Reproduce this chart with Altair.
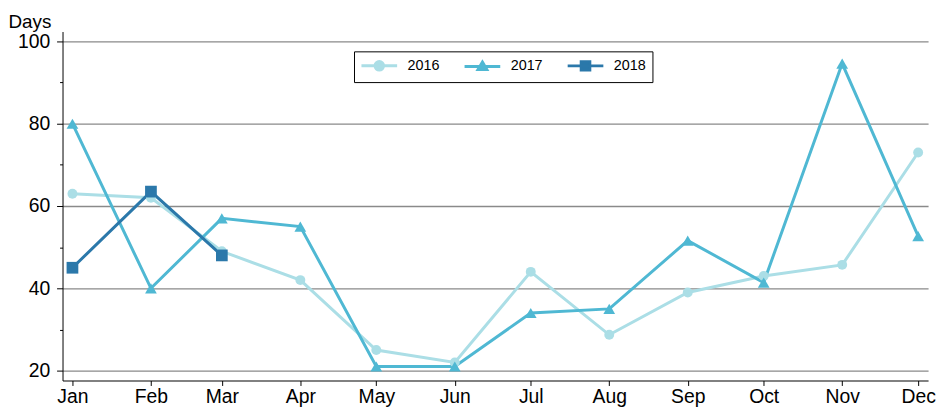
import altair as alt
import pandas as pd

# monthly counts of days, one list per year
months = ["2017-01-01", "2017-02-01", "2017-03-01", "2017-04-01", "2017-05-01", "2017-06-01",
          "2017-07-01", "2017-08-01", "2017-09-01", "2017-10-01", "2017-11-01", "2017-12-01"]
years = ["2016", "2017", "2018"]
days_2016 = [63, 62, 49, 42, 25, 22, 44, 28.7, 39, 43, 45.7, 73]
days_2017 = [80, 40, 57, 55, 21, 21, 34, 35, 51.6, 41.4, 94.6, 52.7]
days_2018 = [45, 63.5, 48]
colors = ["#abdee6", "#4fb8d3", "#2b78aa"]
markers = ["circle", "triangle-up", "square"]
marker_sizes = [100, 140, 140]

rows = []
for year, vals in zip(years, [days_2016, days_2017, days_2018]):
    for m, v in zip(months, vals):
        rows.append({"month": m, "year": year, "series": year, "days": v})
data = pd.DataFrame(rows)

# legend symbols: a short line with the marker sitting in its middle
legend_paths = [
    "M-1,0H4.14M2.18,0A0.61,0.61 0 1,1 0.96,0A0.61,0.61 0 1,1 2.18,0Z",
    "M-1,0H4.14M1.57,-0.62L2.2,0.45H0.94Z",
    "M-1,0H4.14M0.95,-0.6H2.19V0.6H0.95Z",
]

x = alt.X(
    "month:T",
    scale=alt.Scale(
        type="utc",
        nice=False,
        domain=[alt.DateTime(year=2016, month=12, date=28, hours=2, utc=True),
                alt.DateTime(year=2017, month=12, date=4, hours=22, utc=True)],
    ),
    axis=alt.Axis(
        title=None, format="%b", tickCount="month", grid=False,
        tickSize=5, labelPadding=2, labelFontSize=19.5,
    ),
)
y = alt.Y(
    "days:Q",
    scale=alt.Scale(domain=[17.6, 102.4], nice=False, zero=False),
    axis=alt.Axis(
        title="Days", titleAngle=0, titleAlign="left", titleBaseline="alphabetic",
        titleX=-55, titleY=-4, titleFontSize=19, titleFontWeight="normal",
        values=[20, 30, 40, 50, 60, 70, 80, 90, 100],
        labelExpr="datum.value % 20 == 0 ? datum.label : ''",
        tickSize={"condition": {"test": "datum.value % 20 == 0", "value": 6}, "value": 3},
        gridOpacity={"condition": {"test": "datum.value % 20 == 0", "value": 1}, "value": 0},
        labelFontSize=19.5, labelPadding=7,
    ),
)
# color domain left to the data so this hidden legend is not merged with the shown one
color = alt.Color("year:N", scale=alt.Scale(range=colors), legend=None)

lines = alt.Chart(data).mark_line(strokeWidth=3).encode(x=x, y=y, color=color)

point_layers = []
for year, shp, sz in zip(years, markers, marker_sizes):
    point_layers.append(
        alt.Chart(data)
        .transform_filter(alt.datum.year == year)
        .mark_point(filled=True, opacity=1, shape=shp, size=sz)
        .encode(x=x, y=y, color=color)
    )

legend = alt.Legend(
    title=None, orient="none", legendX=294, legendY=20, direction="horizontal",
    strokeColor="black", fillColor="white", padding=6,
    symbolSize=196, symbolStrokeWidth=3, symbolOpacity=1,
    labelFontSize=14.5, labelOffset=31, columnPadding=18,
)
# draws nothing itself (no rows pass the filter); it only carries the legend
legend_layer = (
    alt.Chart(data)
    .transform_filter(alt.datum.days < 0)
    .mark_point(opacity=1)
    .encode(
        x=x,
        y=y,
        fill=alt.Fill("series:N", scale=alt.Scale(domain=years, range=colors), legend=legend),
        stroke=alt.Stroke("series:N", scale=alt.Scale(domain=years, range=colors), legend=legend),
        shape=alt.Shape("series:N", scale=alt.Scale(domain=years, range=legend_paths), legend=legend),
    )
)

chart = (
    alt.layer(lines, *point_layers, legend_layer)
    .properties(
        width=873, height=352,
        autosize=alt.AutoSizeParams(type="none"),
        padding={"left": 55, "top": 22, "right": 8, "bottom": 26},
    )
    .configure(font="Liberation Sans")
    .configure_view(stroke=None)
    .configure_axis(
        domainColor="black", tickColor="black", labelColor="black", titleColor="black",
        gridColor="#8a8a8a", gridWidth=1.3,
    )
)
chart.save("out.html", embed_options={"renderer": "svg", "actions": False})
